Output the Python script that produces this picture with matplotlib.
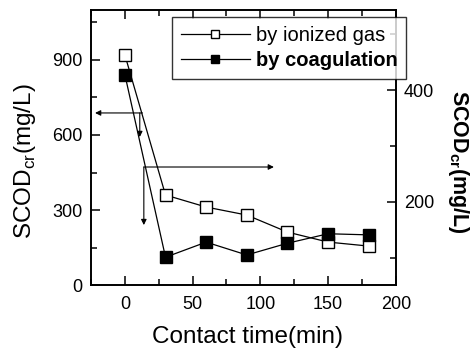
import matplotlib.pyplot as plt
from matplotlib.ticker import MultipleLocator

plt.rcParams['font.family'] = ['Liberation Sans', 'DejaVu Sans']
plt.rcParams['mathtext.fontset'] = 'custom'
plt.rcParams['mathtext.rm'] = 'Liberation Sans'
plt.rcParams['mathtext.bf'] = 'Liberation Sans:bold'

# contact time (min) and SCODcr (mg/L)
time = [0, 30, 60, 90, 120, 150, 180]
scod_gas = [920, 360, 312, 280, 212, 172, 156]
scod_coag = [428, 101, 128, 105, 126, 143, 141]

fig = plt.figure(figsize=(4.74, 3.52), dpi=100)
ax = fig.add_axes([0.192, 0.190, 0.643, 0.782])
ax2 = ax.twinx()

l1, = ax.plot(time, scod_gas, color='black', lw=0.9, marker='s', ms=9,
              mfc='white', mec='black', mew=1.0)
l2, = ax2.plot(time, scod_coag, color='black', lw=0.9, marker='s', ms=9,
               mfc='black', mec='black')

ax.set_xlim(-25, 200)
ax.set_ylim(0, 1100)
ax2.set_ylim(51, 544)

ax.xaxis.set_major_locator(MultipleLocator(50))
ax.xaxis.set_minor_locator(MultipleLocator(25))
ax.yaxis.set_major_locator(MultipleLocator(300))
ax.yaxis.set_minor_locator(MultipleLocator(150))
ax2.yaxis.set_major_locator(MultipleLocator(200))
ax2.yaxis.set_minor_locator(MultipleLocator(100))

ax.tick_params(axis='x', which='both', direction='in', top=True, labelsize=13, pad=8)
ax.tick_params(axis='y', which='both', direction='in', right=False, labelsize=13, pad=6)
ax.tick_params(which='major', length=6.5, width=1.1)
ax.tick_params(which='minor', length=4.5, width=1.1)
ax2.tick_params(axis='y', which='both', direction='in', labelsize=13, pad=6)
ax2.tick_params(which='major', length=6.5, width=1.1)
ax2.tick_params(which='minor', length=4.5, width=1.1)
for a in (ax, ax2):
    for s in a.spines.values():
        s.set_linewidth(1.2)

ax.set_xlabel('Contact time(min)', fontsize=17.5)
ax.xaxis.set_label_coords(0.515, -0.15)
ax.xaxis.label.set_va('top')
ax.set_ylabel(r'SCOD$_{\mathregular{cr}}$(mg/L)', fontsize=17.5)
ax.yaxis.set_label_coords(-0.175, 0.45)
ax2.set_ylabel(r'SCOD$_{\mathbf{cr}}$(mg/L)', fontsize=15.5, fontweight='bold',
               rotation=270, va='bottom')
ax2.yaxis.set_label_coords(1.165, 0.447)

# arrows pointing each series to its axis
arr = dict(arrowstyle='-|>', color='black', lw=0.8, mutation_scale=8, shrinkA=0, shrinkB=0)
ax.annotate('', xy=(-22, 688), xytext=(13, 688), arrowprops=arr)
ax.annotate('', xy=(11, 592), xytext=(11, 688), arrowprops=arr)
ax.annotate('', xy=(110, 472), xytext=(14, 472), arrowprops=arr)
ax.annotate('', xy=(14, 240), xytext=(14, 472), arrowprops=arr)

leg = fig.legend([l1, l2], ['by ionized gas', 'by coagulation'],
                 loc='upper left', bbox_to_anchor=(172 / 474, 1 - 17 / 352),
                 borderaxespad=0, fontsize=14.5, frameon=True, fancybox=False,
                 edgecolor='black', markerscale=0.7, handlelength=3.4,
                 borderpad=0.45, labelspacing=0.3, handletextpad=0.3)
leg.get_frame().set_linewidth(1.0)
leg.get_texts()[1].set_fontweight('bold')

fig.savefig('out.png', dpi=100)
